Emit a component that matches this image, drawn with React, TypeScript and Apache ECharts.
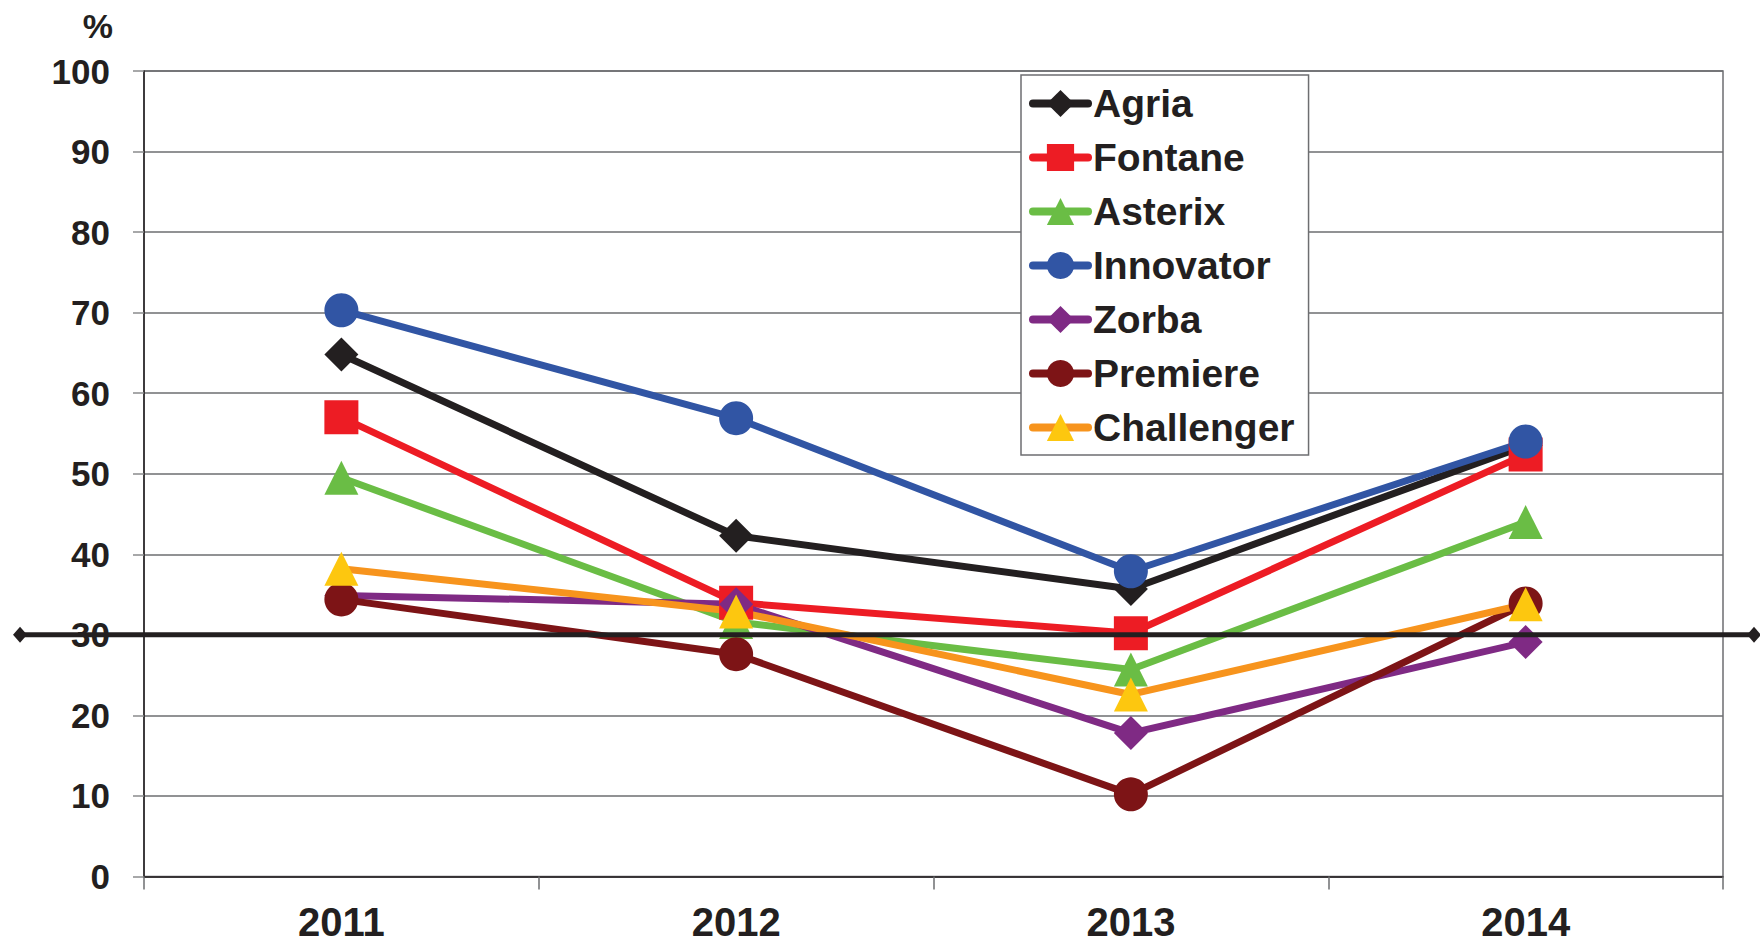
import React, { useEffect, useRef } from "react";
import * as echarts from "echarts";

const categories = ["2011", "2012", "2013", "2014"];

const seriesNames = ["Agria", "Fontane", "Asterix", "Innovator", "Zorba", "Premiere", "Challenger"];

const agria = [64.8, 42.3, 35.7, 53.5];
const fontane = [57.0, 34.0, 30.2, 52.4];
const asterix = [49.5, 31.6, 25.7, 44.0];
const innovator = [70.3, 56.9, 37.9, 54.0];
const zorba = [34.9, 33.8, 17.8, 29.1];
const premiere = [34.4, 27.6, 10.2, 33.9];
const challenger = [38.2, 32.9, 22.6, 33.8];

const yTicks = { min: 0, max: 100, interval: 10 };
const threshold = 30;
const yUnit = "%";

const FONT = "'Liberation Sans', Arial, Helvetica, sans-serif";
const TEXT = "#231f20";

const styles = [
  { line: "#231f20", marker: "#231f20", symbol: "diamond" },
  { line: "#ed1c24", marker: "#ed1c24", symbol: "rect" },
  { line: "#6abd45", marker: "#6abd45", symbol: "triangle" },
  { line: "#3155a4", marker: "#3155a4", symbol: "circle" },
  { line: "#7f2a84", marker: "#7f2a84", symbol: "diamond" },
  { line: "#7d1416", marker: "#7d1416", symbol: "circle" },
  { line: "#f7941d", marker: "#fdc70f", symbol: "triangle" },
];

const values = [agria, fontane, asterix, innovator, zorba, premiere, challenger];

export default function App() {
  const ref = useRef<HTMLDivElement>(null);
  useEffect(() => {
    if (!ref.current) return;
    const chart = echarts.init(ref.current, null, { renderer: "svg" });
    const series = seriesNames.map((name, i) => ({
      name,
      type: "line",
      data: values[i],
      symbol: styles[i].symbol,
      symbolSize: 34,
      lineStyle: { color: styles[i].line, width: 7 },
      itemStyle: { color: styles[i].marker },
      emphasis: { disabled: true },
    }));
    chart.setOption({
      animation: false,
      backgroundColor: "#ffffff",
      textStyle: { fontFamily: FONT },
      grid: {
        left: 144,
        right: 37,
        top: 71,
        bottom: 69.5,
        show: true,
        borderColor: "#6d6e71",
        borderWidth: 1.5,
      },
      legend: {
        orient: "vertical",
        left: 1021,
        top: 75,
        padding: [9, 14, 8, 8],
        itemGap: 15,
        itemWidth: 55,
        itemHeight: 34,
        backgroundColor: "#ffffff",
        borderColor: "#6d6e71",
        borderWidth: 1.5,
        borderRadius: 0,
        lineStyle: { width: 8, cap: "round" },
        textStyle: {
          fontFamily: FONT,
          fontSize: 39,
          fontWeight: "bold",
          color: TEXT,
          lineHeight: 38,
        },
        data: seriesNames,
      },
      xAxis: {
        type: "category",
        data: categories,
        boundaryGap: true,
        axisLine: { lineStyle: { color: TEXT, width: 1.5 } },
        axisTick: { show: true, length: 13, interval: 0, lineStyle: { color: "#6d6e71", width: 1.5 } },
        axisLabel: {
          fontFamily: FONT,
          fontSize: 40,
          fontWeight: "bold",
          color: TEXT,
          margin: 27,
          lineHeight: 36,
        },
        splitLine: { show: false },
      },
      yAxis: {
        type: "value",
        min: yTicks.min,
        max: yTicks.max,
        interval: yTicks.interval,
        axisLine: { show: true, lineStyle: { color: TEXT, width: 1.5 } },
        axisTick: { show: true, length: 11, lineStyle: { color: "#8a8b8d", width: 1.5 } },
        axisLabel: {
          fontFamily: FONT,
          fontSize: 35,
          fontWeight: "bold",
          color: TEXT,
          margin: 34,
        },
        splitLine: { show: true, lineStyle: { color: "#6d6e71", width: 1.5 } },
      },
      series,
    });

    const y = chart.convertToPixel({ yAxisIndex: 0 }, threshold) as number;
    const x0 = 20;
    const x1 = 1754;
    const dw = 7;
    const dh = 8;
    const diamond = (cx: number) => ({
      type: "polygon",
      z: 101,
      shape: { points: [[cx, y - dh], [cx + dw, y], [cx, y + dh], [cx - dw, y]] },
      style: { fill: TEXT },
      silent: true,
    });
    chart.setOption({
      graphic: [
        {
          type: "line",
          z: 100,
          shape: { x1: x0, y1: y, x2: x1, y2: y },
          style: { stroke: TEXT, lineWidth: 5 },
          silent: true,
        },
        diamond(x0),
        diamond(x1),
        {
          type: "text",
          x: 113,
          y: 26,
          z: 100,
          style: {
            text: yUnit,
            fontFamily: FONT,
            fontSize: 34,
            fontWeight: "bold",
            fill: TEXT,
            align: "right",
            verticalAlign: "middle",
          },
          silent: true,
        },
      ],
    });

    return () => chart.dispose();
  }, []);
  return (
    <div
      ref={ref}
      style={{ position: "fixed", left: 0, top: 0, width: 1760, height: 946 }}
    />
  );
}
